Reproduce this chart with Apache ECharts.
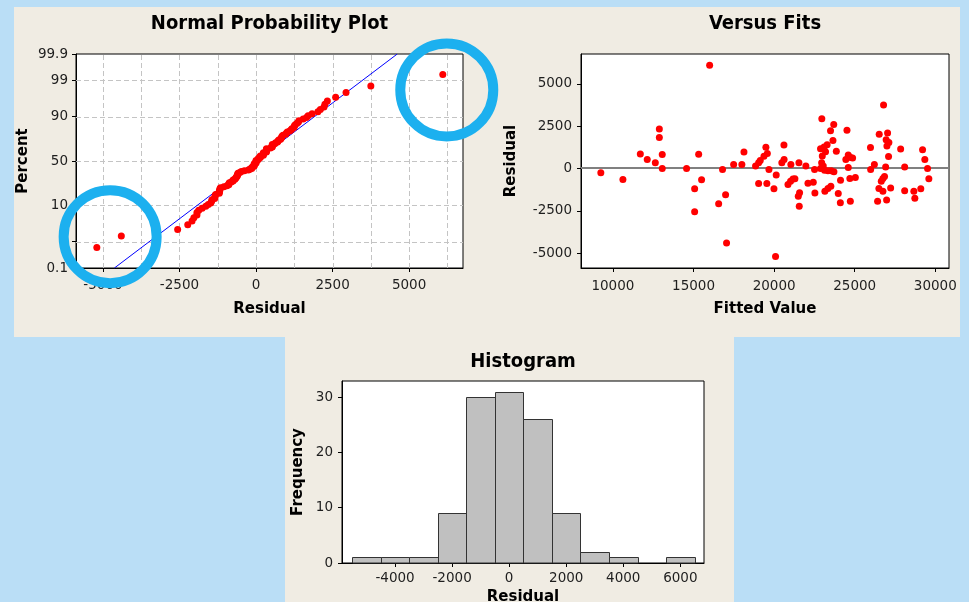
<!DOCTYPE html>
<html><head><meta charset="utf-8">
<script src="https://cdn.jsdelivr.net/npm/echarts@6/dist/echarts.min.js"></script>
<style>
html,body{margin:0;padding:0;width:969px;height:602px;overflow:hidden;background:#badef6;}
.panel{position:absolute;background:#f0ece3;}
#chart{position:absolute;left:0;top:0;width:969px;height:602px;}
</style></head><body>
<div class="panel" style="left:14px;top:7px;width:946px;height:330px"></div>
<div class="panel" style="left:285px;top:337px;width:449px;height:265px"></div>
<div id="chart"></div>
<script>
// ---- data ----
const fittedValues = [9250,10620,11700,12130,12630,12880,12880,13060,13060,14570,15320,15500,15070,15070,16000,16800,16990,16560,17050,17490,18000,18130,18850,19040,19140,19370,19490,19580,19680,19040,19550,19990,20130,20090,20610,20480,20620,21040,21540,21970,22510,20860,21020,21170,21290,21580,21500,21560,22100,22430,22530,22960,23500,23700,23650,23860,24520,22880,23100,23290,23190,22990,22950,22880,23050,23130,23340,23540,23710,23150,23340,23520,24120,23980,24110,24450,24600,24740,24870,24600,24700,25040,24730,26790,26520,27040,25980,26950,27120,27000,27850,27100,29210,29350,29520,29600,28100,26220,25990,26920,26850,26750,26650,26500,26750,27230,26420,26980,28100,28670,28730,29100];
const residuals = [-250,-650,850,530,340,2330,1830,820,0,0,840,-670,-1200,-2560,6100,-60,-1560,-2090,-4400,240,240,970,140,340,470,720,1250,880,-60,-890,-890,-1200,-380,-5200,1380,340,530,240,340,140,-60,-950,-750,-630,-610,-1440,-1640,-2230,-870,-810,-1450,2940,2220,2600,1650,1020,2250,1170,1270,1400,990,740,340,0,140,-100,-140,-140,-200,-1340,-1180,-1050,-690,-1480,-2030,530,800,640,610,60,-590,-530,-1930,3750,2020,2100,1240,1700,1540,1330,1150,700,1100,530,0,-610,80,240,-60,80,-480,-590,-750,-1180,-1350,-1160,-1930,-1870,-1320,-1340,-1760,-1200];
const histBinCenters = [-5000,-4000,-3000,-2000,-1000,0,1000,2000,3000,4000,5000,6000];
const histCounts = [1,1,1,9,30,31,26,9,2,1,0,1];
const histBinWidth = 1000;
const probLabels = ['0.1','1','10','50','90','99','99.9'];
const probPercents = [0.1,1,10,50,90,99,99.9];
const probGridPercents = [1,10,50,90,99];
const residTicks = [-5000,-2500,0,2500,5000];
const residGrid = [-5000,-3750,-2500,-1250,0,1250,2500,3750,5000,6250];
const fitTicks = [10000,15000,20000,25000,30000];
const histXTicks = [-4000,-2000,0,2000,4000,6000];
const histYTicks = [0,10,20,30];
const fitLineResid = [-4625,4612];
const fitLinePct = [0.1,99.9];
const circleResid = [-4765,6230];
const circlePct = [1.44,98.0];

// inverse standard normal CDF (probability-paper scale)
function probit(p){
  const a=[-3.969683028665376e+01,2.209460984245205e+02,-2.759285104469687e+02,1.383577518672690e+02,-3.066479806614716e+01,2.506628277459239e+00];
  const b=[-5.447609879822406e+01,1.615858368580409e+02,-1.556989798598866e+02,6.680131188771972e+01,-1.328068155288572e+01];
  const c=[-7.784894002430293e-03,-3.223964580411365e-01,-2.400758277161838e+00,-2.549732539343734e+00,4.374664141464968e+00,2.938163982698783e+00];
  const d=[7.784695709041462e-03,3.224671290700398e-01,2.445134137142996e+00,3.754408661907416e+00];
  const pl=0.02425, ph=1-pl; let q,r;
  if(p<pl){q=Math.sqrt(-2*Math.log(p));return (((((c[0]*q+c[1])*q+c[2])*q+c[3])*q+c[4])*q+c[5])/((((d[0]*q+d[1])*q+d[2])*q+d[3])*q+1);}
  if(p<=ph){q=p-0.5;r=q*q;return (((((a[0]*r+a[1])*r+a[2])*r+a[3])*r+a[4])*r+a[5])*q/(((((b[0]*r+b[1])*r+b[2])*r+b[3])*r+b[4])*r+1);}
  q=Math.sqrt(-2*Math.log(1-p));return -(((((c[0]*q+c[1])*q+c[2])*q+c[3])*q+c[4])*q+c[5])/((((d[0]*q+d[1])*q+d[2])*q+d[3])*q+1);
}

const n = residuals.length;
const sorted = residuals.slice().sort((x,y)=>x-y);
const probData = sorted.map((r,i)=>[r, probit((i+1-0.3)/(n+0.4))]);
const probZ = probPercents.map(p=>probit(p/100));
const zMin = probZ[0], zMax = probZ[probZ.length-1];
const vsData = fittedValues.map((f,i)=>[f, residuals[i]]);

const R = {xMin:-5880, xMax:6760};
const F = {xMin:8020, xMax:30850};
const H = {xMin:-5860, xMax:6830, yMax:32.9};

const tickFont = {fontFamily:'DejaVu Sans', fontSize:13.5, color:'#1e1e1e'};
const nameFont = {fontFamily:'DejaVu Sans', fontWeight:'bold', fontSize:15, color:'#000'};

function axisBase(extra){
  return Object.assign({
    type:'value', nameLocation:'middle', nameTextStyle:nameFont,
    axisLine:{show:true, onZero:false, lineStyle:{color:'#000', width:1}},
    splitLine:{show:false}
  }, extra);
}
function ticks(vals, margin, fmt){
  return {
    axisTick:{show:true, customValues:vals, length:4, lineStyle:{color:'#000'}},
    axisLabel:Object.assign({customValues:vals, margin:margin, showMinLabel:true, showMaxLabel:true, hideOverlap:false,
      formatter: fmt || (v => String(Math.round(v)))}, tickFont)
  };
}
const crisp = v => Math.round(v)+0.5;
function vLines(yLo, yHi, style){
  return function(params, api){
    const v = api.value(0);
    const p0 = api.coord([v, yLo]), p1 = api.coord([v, yHi]);
    const x = crisp(p0[0]);
    return {type:'line', shape:{x1:x, y1:p0[1], x2:x, y2:p1[1]}, style:style};
  };
}
function hLines(xLo, xHi, style){
  return function(params, api){
    const v = api.value(1);
    const p0 = api.coord([xLo, v]), p1 = api.coord([xHi, v]);
    const y = crisp(p0[1]);
    return {type:'line', shape:{x1:p0[0], y1:y, x2:p1[0], y2:y}, style:style};
  };
}
const gridStyle = {stroke:'#c4c4c4', lineWidth:1, lineDash:[5,3]};
const probFmt = function(v){
  let best=0, bd=1e9;
  probZ.forEach((z,i)=>{const dd=Math.abs(z-v); if(dd<bd){bd=dd;best=i;}});
  return probLabels[best];
};

const chart = echarts.init(document.getElementById('chart'), null, {renderer:'canvas'});
const option = {
  animation:false,
  backgroundColor:'transparent',
  grid:[
    {left:76, top:54, width:387, height:214, show:true, backgroundColor:'#fff', borderColor:'#000', borderWidth:1, outerBoundsMode:'none'},
    {left:581, top:54, width:368, height:214, show:true, backgroundColor:'#fff', borderColor:'#000', borderWidth:1, outerBoundsMode:'none'},
    {left:342, top:381, width:362, height:182, show:true, backgroundColor:'#fff', borderColor:'#000', borderWidth:1, outerBoundsMode:'none'}
  ],
  xAxis:[
    axisBase(Object.assign({gridIndex:0, min:R.xMin, max:R.xMax, name:'Residual', nameGap:34}, ticks(residTicks, 10))),
    axisBase(Object.assign({gridIndex:1, min:F.xMin, max:F.xMax, name:'Fitted Value', nameGap:34}, ticks(fitTicks, 11))),
    axisBase(Object.assign({gridIndex:2, min:H.xMin, max:H.xMax, name:'Residual', nameGap:27}, ticks(histXTicks, 8)))
  ],
  yAxis:[
    axisBase(Object.assign({gridIndex:0, min:zMin, max:zMax, name:'Percent', nameGap:45}, ticks(probZ, 8, probFmt))),
    axisBase(Object.assign({gridIndex:1, min:R.xMin, max:R.xMax, name:'Residual', nameGap:62}, ticks(residTicks, 9))),
    axisBase(Object.assign({gridIndex:2, min:0, max:H.yMax, name:'Frequency', nameGap:36}, ticks(histYTicks, 9)))
  ],
  series:[
    {type:'custom', xAxisIndex:0, yAxisIndex:0, z:1, silent:true,
      data:residGrid.map(v=>[v,0]), renderItem:vLines(zMin, zMax, gridStyle)},
    {type:'custom', xAxisIndex:0, yAxisIndex:0, z:1, silent:true,
      data:probGridPercents.map(p=>[0, probit(p/100)]), renderItem:hLines(R.xMin, R.xMax, gridStyle)},
    {type:'line', xAxisIndex:0, yAxisIndex:0, z:3, silent:true, symbol:'none',
      data:[[fitLineResid[0], probit(fitLinePct[0]/100)],[fitLineResid[1], probit(fitLinePct[1]/100)]],
      lineStyle:{color:'#0000ff', width:1}},
    {type:'scatter', xAxisIndex:0, yAxisIndex:0, z:4, symbolSize:7, itemStyle:{color:'#ff0000', opacity:1}, data:probData},

    {type:'custom', xAxisIndex:1, yAxisIndex:1, z:1, silent:true,
      data:[[0,0]], renderItem:function(params, api){
        const p0 = api.coord([F.xMin, 0]), p1 = api.coord([F.xMax, 0]);
        const y = Math.round(p0[1]);
        return {type:'line', shape:{x1:p0[0], y1:y, x2:p1[0], y2:y}, style:{stroke:'#808080', lineWidth:2}};
      }},
    {type:'scatter', xAxisIndex:1, yAxisIndex:1, z:4, symbolSize:7, itemStyle:{color:'#ff0000', opacity:1}, data:vsData},

    {type:'custom', xAxisIndex:2, yAxisIndex:2, z:2, silent:true,
      data:histBinCenters.map((c,i)=>[c, histCounts[i]]),
      renderItem:function(params, api){
        const c = api.value(0), k = api.value(1);
        if(!k) return null;
        const p0 = api.coord([c-histBinWidth/2, 0]), p1 = api.coord([c+histBinWidth/2, k]);
        const x0 = crisp(p0[0]), x1 = crisp(p1[0]), y1 = crisp(p1[1]), y0 = Math.round(p0[1]);
        return {type:'rect', shape:{x:x0, y:y1, width:x1-x0, height:y0-y1}, style:{fill:'#c0c0c0', stroke:'#333', lineWidth:1}};
      }}
  ]
};
chart.setOption(option);

const titleStyle = (t, x, y) => ({type:'text', z:50, style:{text:t, x:x, y:y, textAlign:'center', textVerticalAlign:'middle',
  fontFamily:'"DejaVu Sans Condensed", "DejaVu Sans"', fontWeight:'bold', fontSize:20, fill:'#000'}});
const elements = [
  titleStyle('Normal Probability Plot', 269.5, 23.5),
  titleStyle('Versus Fits', 765, 23.5),
  titleStyle('Histogram', 523, 361.5)
];
circleResid.forEach((r,i)=>{
  const p = chart.convertToPixel({gridIndex:0}, [r, probit(circlePct[i]/100)]);
  elements.push({type:'circle', z:100, silent:true, shape:{cx:p[0], cy:p[1], r:46.5}, style:{fill:'none', stroke:'#1cb0ef', lineWidth:10}});
});
chart.setOption({graphic:{elements:elements}});
</script></body></html>
